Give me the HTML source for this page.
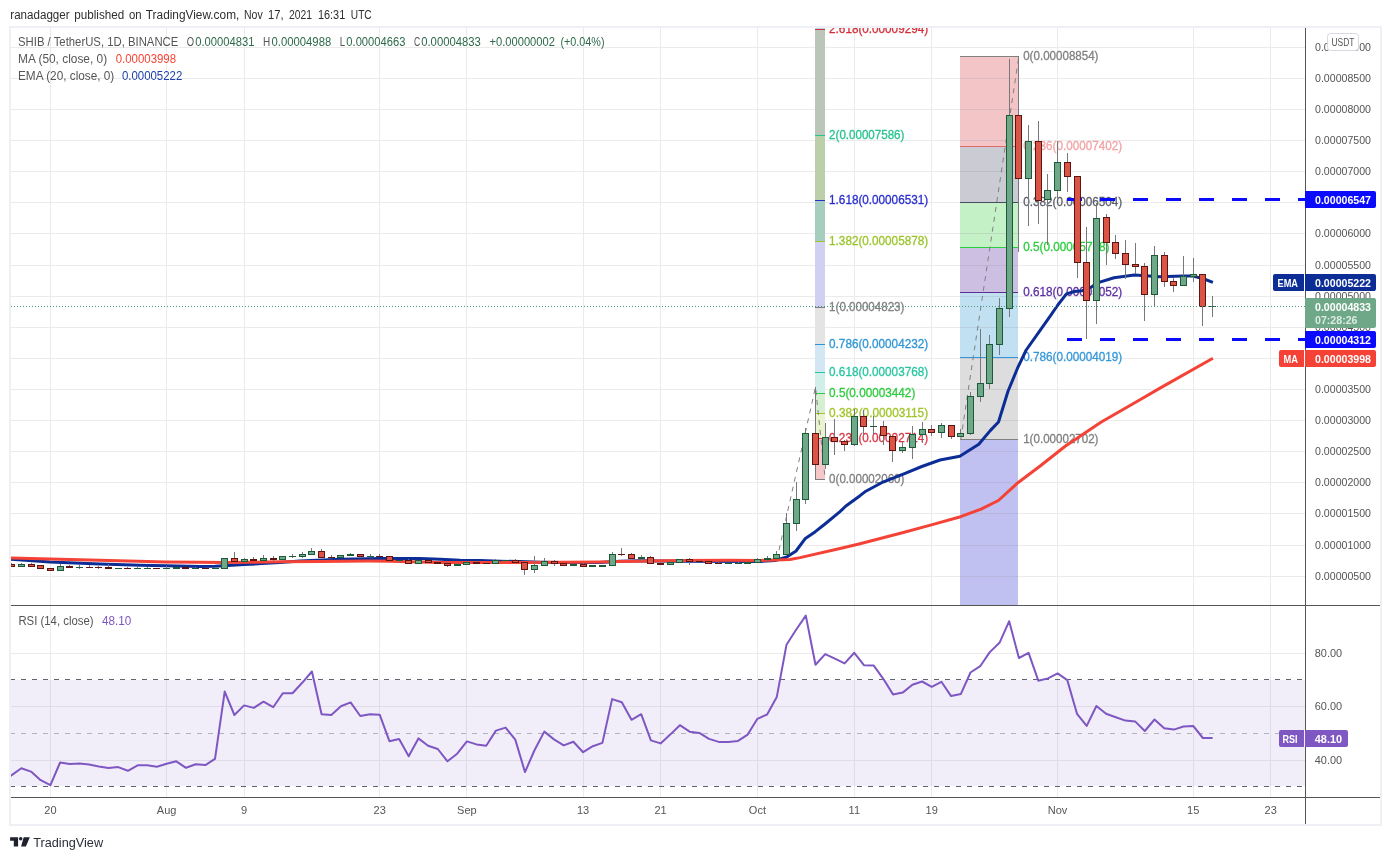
<!DOCTYPE html>
<html><head><meta charset="utf-8"><title>SHIB / TetherUS chart</title>
<style>
html,body{margin:0;padding:0;background:#fff;}
body{width:1391px;height:860px;overflow:hidden;position:relative;font-family:"Liberation Sans", sans-serif;}
#frame{position:absolute;left:9px;top:26px;width:1369px;height:796px;border:2px solid #eef0f5;background:#fff;}
svg{position:absolute;left:0;top:0;will-change:transform;}
svg text{font-family:"Liberation Sans", sans-serif;}
</style></head>
<body>
<div id="frame"></div>
<svg width="1391" height="860" viewBox="0 0 1391 860">
<defs><clipPath id="pane"><rect x="11" y="28" width="1369" height="796"/></clipPath></defs>
<g clip-path="url(#pane)">
<g shape-rendering="crispEdges">
<rect x="11" y="47" width="1294" height="1" fill="#ebebeb"/>
<rect x="11" y="78" width="1294" height="1" fill="#ebebeb"/>
<rect x="11" y="109" width="1294" height="1" fill="#ebebeb"/>
<rect x="11" y="140" width="1294" height="1" fill="#ebebeb"/>
<rect x="11" y="171" width="1294" height="1" fill="#ebebeb"/>
<rect x="11" y="202" width="1294" height="1" fill="#ebebeb"/>
<rect x="11" y="233" width="1294" height="1" fill="#ebebeb"/>
<rect x="11" y="265" width="1294" height="1" fill="#ebebeb"/>
<rect x="11" y="296" width="1294" height="1" fill="#ebebeb"/>
<rect x="11" y="327" width="1294" height="1" fill="#ebebeb"/>
<rect x="11" y="358" width="1294" height="1" fill="#ebebeb"/>
<rect x="11" y="389" width="1294" height="1" fill="#ebebeb"/>
<rect x="11" y="420" width="1294" height="1" fill="#ebebeb"/>
<rect x="11" y="451" width="1294" height="1" fill="#ebebeb"/>
<rect x="11" y="482" width="1294" height="1" fill="#ebebeb"/>
<rect x="11" y="513" width="1294" height="1" fill="#ebebeb"/>
<rect x="11" y="545" width="1294" height="1" fill="#ebebeb"/>
<rect x="11" y="576" width="1294" height="1" fill="#ebebeb"/>
<rect x="11" y="653" width="1294" height="1" fill="#ebebeb"/>
<rect x="11" y="706" width="1294" height="1" fill="#ebebeb"/>
<rect x="11" y="760" width="1294" height="1" fill="#ebebeb"/>
<rect x="50" y="28" width="1" height="769" fill="#ebebeb"/>
<rect x="166" y="28" width="1" height="769" fill="#ebebeb"/>
<rect x="244" y="28" width="1" height="769" fill="#ebebeb"/>
<rect x="379" y="28" width="1" height="769" fill="#ebebeb"/>
<rect x="466" y="28" width="1" height="769" fill="#ebebeb"/>
<rect x="583" y="28" width="1" height="769" fill="#ebebeb"/>
<rect x="660" y="28" width="1" height="769" fill="#ebebeb"/>
<rect x="757" y="28" width="1" height="769" fill="#ebebeb"/>
<rect x="854" y="28" width="1" height="769" fill="#ebebeb"/>
<rect x="931" y="28" width="1" height="769" fill="#ebebeb"/>
<rect x="1057" y="28" width="1" height="769" fill="#ebebeb"/>
<rect x="1193" y="28" width="1" height="769" fill="#ebebeb"/>
<rect x="1270" y="28" width="1" height="769" fill="#ebebeb"/>
</g>
<rect x="11" y="680" width="1294" height="106" fill="#7e57c2" fill-opacity="0.1"/>
<g shape-rendering="crispEdges">
<line x1="10" x2="1305" y1="679.5" y2="679.5" stroke="#62626f" stroke-width="1" stroke-dasharray="5 6"/>
<line x1="10" x2="1305" y1="733.5" y2="733.5" stroke="#b2b2bd" stroke-width="1" stroke-dasharray="5 6"/>
<line x1="10" x2="1305" y1="786.5" y2="786.5" stroke="#62626f" stroke-width="1" stroke-dasharray="5 6"/>
</g>
<g shape-rendering="crispEdges">
<rect x="815" y="438.6" width="10" height="40.7" fill="#f4c7c9"/>
<rect x="815" y="413.6" width="10" height="25.0" fill="#e9f3cf"/>
<rect x="815" y="393.3" width="10" height="20.4" fill="#d6efd0"/>
<rect x="815" y="372.9" width="10" height="20.3" fill="#cfefe8"/>
<rect x="815" y="344.1" width="10" height="28.9" fill="#d3e6f3"/>
<rect x="815" y="307.2" width="10" height="36.8" fill="#e4e4e4"/>
<rect x="815" y="241.5" width="10" height="65.7" fill="#cfd0f2"/>
<rect x="815" y="200.9" width="10" height="40.7" fill="#a6cdbd"/>
<rect x="815" y="135.2" width="10" height="65.7" fill="#bbd0aa"/>
<rect x="815" y="28.8" width="10" height="106.4" fill="#bbc5b8"/>
<rect x="815" y="28" width="10" height="1" fill="#bcd6e6"/>
<rect x="815" y="479" width="10" height="1" fill="#808080"/>
<rect x="815" y="438" width="10" height="1" fill="#dc3540"/>
<rect x="815" y="413" width="10" height="1" fill="#a2c52b"/>
<rect x="815" y="393" width="10" height="1" fill="#2ecc40"/>
<rect x="815" y="372" width="10" height="1" fill="#26c6a0"/>
<rect x="815" y="344" width="10" height="1" fill="#2f95d6"/>
<rect x="815" y="307" width="10" height="1" fill="#808080"/>
<rect x="815" y="241" width="10" height="1" fill="#9bc42c"/>
<rect x="815" y="200" width="10" height="1" fill="#2a2ed0"/>
<rect x="815" y="135" width="10" height="1" fill="#26c48e"/>
<rect x="815" y="29" width="10" height="1" fill="#d32f3a"/>
</g>
<polyline points="776.8,559.8 815.5,387.1 825.2,479.1" fill="none" stroke="#808080" stroke-width="1" stroke-dasharray="5 5"/>
<text x="829.1" y="482.6" font-size="12" fill="#808080" font-weight="normal" textLength="75.3" lengthAdjust="spacingAndGlyphs" stroke="#808080" stroke-width="0.3">0(0.00002060)</text>
<text x="829.1" y="441.9" font-size="12" fill="#dc3540" font-weight="normal" textLength="99.0" lengthAdjust="spacingAndGlyphs" stroke="#dc3540" stroke-width="0.3">0.236(0.00002714)</text>
<text x="829.1" y="416.9" font-size="12" fill="#a2c52b" font-weight="normal" textLength="99.0" lengthAdjust="spacingAndGlyphs" stroke="#a2c52b" stroke-width="0.3">0.382(0.00003115)</text>
<text x="829.1" y="396.6" font-size="12" fill="#2ecc40" font-weight="normal" textLength="86.2" lengthAdjust="spacingAndGlyphs" stroke="#2ecc40" stroke-width="0.3">0.5(0.00003442)</text>
<text x="829.1" y="376.2" font-size="12" fill="#26c6a0" font-weight="normal" textLength="99.0" lengthAdjust="spacingAndGlyphs" stroke="#26c6a0" stroke-width="0.3">0.618(0.00003768)</text>
<text x="829.1" y="348.1" font-size="12" fill="#2f95d6" font-weight="normal" textLength="99.0" lengthAdjust="spacingAndGlyphs" stroke="#2f95d6" stroke-width="0.3">0.786(0.00004232)</text>
<text x="829.1" y="310.5" font-size="12" fill="#808080" font-weight="normal" textLength="75.3" lengthAdjust="spacingAndGlyphs" stroke="#808080" stroke-width="0.3">1(0.00004823)</text>
<text x="829.1" y="244.8" font-size="12" fill="#9bc42c" font-weight="normal" textLength="99.0" lengthAdjust="spacingAndGlyphs" stroke="#9bc42c" stroke-width="0.3">1.382(0.00005878)</text>
<text x="829.1" y="204.2" font-size="12" fill="#2a2ed0" font-weight="normal" textLength="99.0" lengthAdjust="spacingAndGlyphs" stroke="#2a2ed0" stroke-width="0.3">1.618(0.00006531)</text>
<text x="829.1" y="138.5" font-size="12" fill="#26c48e" font-weight="normal" textLength="75.3" lengthAdjust="spacingAndGlyphs" stroke="#26c48e" stroke-width="0.3">2(0.00007586)</text>
<text x="829.1" y="32.9" font-size="12" fill="#d32f3a" font-weight="normal" textLength="99.0" lengthAdjust="spacingAndGlyphs" stroke="#d32f3a" stroke-width="0.3">2.618(0.00009294)</text>
<g shape-rendering="crispEdges">
<rect x="960" y="56.2" width="58" height="90.4" fill="#f4c5c7"/>
<rect x="960" y="146.6" width="58" height="55.9" fill="#cbcbd3"/>
<rect x="960" y="202.6" width="58" height="45.2" fill="#c5f1c6"/>
<rect x="960" y="247.8" width="58" height="45.2" fill="#cdbfe2"/>
<rect x="960" y="293.0" width="58" height="64.3" fill="#c1e1f2"/>
<rect x="960" y="357.3" width="58" height="82.0" fill="#dddddd"/>
<rect x="960" y="439.3" width="58" height="165.7" fill="#c1c1f1"/>
</g>
<g shape-rendering="crispEdges" opacity="0.25">
<rect x="960" y="78" width="58" height="1" fill="#9a9aa8"/>
<rect x="960" y="109" width="58" height="1" fill="#9a9aa8"/>
<rect x="960" y="140" width="58" height="1" fill="#9a9aa8"/>
<rect x="960" y="171" width="58" height="1" fill="#9a9aa8"/>
<rect x="960" y="202" width="58" height="1" fill="#9a9aa8"/>
<rect x="960" y="233" width="58" height="1" fill="#9a9aa8"/>
<rect x="960" y="265" width="58" height="1" fill="#9a9aa8"/>
<rect x="960" y="296" width="58" height="1" fill="#9a9aa8"/>
<rect x="960" y="327" width="58" height="1" fill="#9a9aa8"/>
<rect x="960" y="358" width="58" height="1" fill="#9a9aa8"/>
<rect x="960" y="389" width="58" height="1" fill="#9a9aa8"/>
<rect x="960" y="420" width="58" height="1" fill="#9a9aa8"/>
<rect x="960" y="451" width="58" height="1" fill="#9a9aa8"/>
<rect x="960" y="482" width="58" height="1" fill="#9a9aa8"/>
<rect x="960" y="513" width="58" height="1" fill="#9a9aa8"/>
<rect x="960" y="545" width="58" height="1" fill="#9a9aa8"/>
<rect x="960" y="576" width="58" height="1" fill="#9a9aa8"/>
</g>
<g shape-rendering="crispEdges">
<rect x="960" y="56" width="58" height="1" fill="#808080"/>
<rect x="960" y="146" width="58" height="1" fill="#e06a6a"/>
<rect x="960" y="202" width="58" height="1" fill="#4a4a5e"/>
<rect x="960" y="247" width="58" height="1" fill="#2ecc40"/>
<rect x="960" y="292" width="58" height="1" fill="#5b2d90"/>
<rect x="960" y="357" width="58" height="1" fill="#3597d9"/>
<rect x="960" y="439" width="58" height="1" fill="#808080"/>
</g>
<line x1="960.8" y1="439.3" x2="1018.9" y2="56.2" stroke="#808080" stroke-width="1" stroke-dasharray="5 5"/>
<text x="1023.2" y="59.5" font-size="12" fill="#808080" font-weight="normal" textLength="75.3" lengthAdjust="spacingAndGlyphs" stroke="#808080" stroke-width="0.3">0(0.00008854)</text>
<text x="1023.2" y="149.9" font-size="12" fill="#f2a3a6" font-weight="normal" textLength="99.0" lengthAdjust="spacingAndGlyphs" stroke="#f2a3a6" stroke-width="0.3">0.236(0.00007402)</text>
<text x="1023.2" y="205.9" font-size="12" fill="#5d606b" font-weight="normal" textLength="99.0" lengthAdjust="spacingAndGlyphs" stroke="#5d606b" stroke-width="0.3">0.382(0.00006504)</text>
<text x="1023.2" y="251.1" font-size="12" fill="#2ecc40" font-weight="normal" textLength="86.2" lengthAdjust="spacingAndGlyphs" stroke="#2ecc40" stroke-width="0.3">0.5(0.00005778)</text>
<text x="1023.2" y="296.3" font-size="12" fill="#5e30a3" font-weight="normal" textLength="99.0" lengthAdjust="spacingAndGlyphs" stroke="#5e30a3" stroke-width="0.3">0.618(0.00005052)</text>
<text x="1023.2" y="360.6" font-size="12" fill="#3597d9" font-weight="normal" textLength="99.0" lengthAdjust="spacingAndGlyphs" stroke="#3597d9" stroke-width="0.3">0.786(0.00004019)</text>
<text x="1023.2" y="442.6" font-size="12" fill="#808080" font-weight="normal" textLength="75.3" lengthAdjust="spacingAndGlyphs" stroke="#808080" stroke-width="0.3">1(0.00002702)</text>
<line x1="1067" x2="1305" y1="199.5" y2="199.5" stroke="#0a0aff" stroke-width="3" stroke-dasharray="15 18" shape-rendering="crispEdges"/>
<line x1="1067" x2="1305" y1="339.5" y2="339.5" stroke="#0a0aff" stroke-width="3" stroke-dasharray="15 18" shape-rendering="crispEdges"/>
<polyline points="10.0,559.3 50.0,562.0 100.0,564.0 140.0,565.2 166.0,565.7 200.0,566.4 215.0,566.3 224.0,565.8 244.0,564.6 262.0,563.6 280.0,562.6 300.0,561.0 340.0,559.3 380.0,558.5 420.0,558.5 440.0,559.3 460.0,560.2 480.0,560.6 500.0,561.2 520.0,561.6 540.0,562.2 560.0,562.4 600.0,562.4 620.0,561.3 640.0,560.8 680.0,561.3 760.0,561.5 775.0,560.5 786.8,557.0 796.0,551.0 805.0,538.8 815.3,531.7 825.0,524.0 840.0,511.6 845.9,506.0 860.0,495.7 864.9,491.8 881.6,482.7 903.3,474.1 921.8,466.5 940.0,460.0 959.8,456.2 978.8,444.3 990.0,430.9 998.5,422.0 1008.0,391.2 1017.5,368.2 1026.2,350.0 1038.0,333.4 1050.7,315.3 1057.8,305.0 1066.5,293.9 1074.4,291.5 1082.3,290.7 1091.8,286.8 1098.2,282.6 1114.0,277.8 1134.5,275.1 1160.0,276.7 1183.0,276.0 1193.0,276.1 1202.7,278.5 1212.9,282.4" fill="none" stroke="#0c2d96" stroke-width="3" stroke-linejoin="round" stroke-linecap="butt"/>
<polyline points="10.0,558.1 90.0,560.0 166.0,561.9 200.0,562.2 224.0,562.5 248.0,562.3 280.0,561.8 320.0,561.4 368.0,561.0 390.0,561.2 440.0,562.5 480.0,562.5 520.0,562.4 600.0,561.9 620.0,561.5 680.0,560.6 728.0,560.3 760.0,560.5 790.0,559.5 800.0,557.6 840.0,548.5 860.0,543.7 903.3,532.5 931.4,524.9 960.6,516.7 981.1,509.1 998.4,500.5 1017.9,482.7 1039.5,466.5 1065.5,446.0 1101.3,422.0 1140.0,399.7 1160.0,388.1 1212.9,358.3" fill="none" stroke="#f44336" stroke-width="3" stroke-linejoin="round" stroke-linecap="butt"/>
<g shape-rendering="crispEdges">
<rect x="11" y="563" width="1" height="4" fill="#76787d"/>
<rect x="8" y="564" width="7" height="3" fill="#5e1511"/>
<rect x="9" y="565" width="5" height="1" fill="#da5545"/>
<rect x="21" y="563" width="1" height="4" fill="#76787d"/>
<rect x="18" y="564" width="7" height="3" fill="#1d5a3a"/>
<rect x="19" y="565" width="5" height="1" fill="#6fa888"/>
<rect x="31" y="563" width="1" height="4" fill="#76787d"/>
<rect x="28" y="564" width="7" height="3" fill="#5e1511"/>
<rect x="29" y="565" width="5" height="1" fill="#da5545"/>
<rect x="40" y="565" width="1" height="4" fill="#76787d"/>
<rect x="37" y="565" width="7" height="4" fill="#5e1511"/>
<rect x="38" y="566" width="5" height="2" fill="#da5545"/>
<rect x="50" y="568" width="1" height="3" fill="#76787d"/>
<rect x="47" y="568" width="7" height="3" fill="#5e1511"/>
<rect x="48" y="569" width="5" height="1" fill="#da5545"/>
<rect x="60" y="564" width="1" height="7" fill="#76787d"/>
<rect x="57" y="566" width="7" height="5" fill="#1d5a3a"/>
<rect x="58" y="567" width="5" height="3" fill="#6fa888"/>
<rect x="69" y="565" width="1" height="3" fill="#76787d"/>
<rect x="66" y="566" width="7" height="2" fill="#5e1511"/>
<rect x="79" y="565" width="1" height="4" fill="#76787d"/>
<rect x="76" y="567" width="7" height="1" fill="#1d5a3a"/>
<rect x="89" y="565" width="1" height="3" fill="#76787d"/>
<rect x="86" y="567" width="7" height="1" fill="#5e1511"/>
<rect x="98" y="566" width="1" height="3" fill="#76787d"/>
<rect x="95" y="567" width="7" height="1" fill="#5e1511"/>
<rect x="108" y="564" width="1" height="5" fill="#76787d"/>
<rect x="105" y="567" width="7" height="2" fill="#5e1511"/>
<rect x="118" y="568" width="1" height="1" fill="#76787d"/>
<rect x="115" y="568" width="7" height="1" fill="#1d5a3a"/>
<rect x="127" y="567" width="1" height="2" fill="#76787d"/>
<rect x="124" y="568" width="7" height="1" fill="#5e1511"/>
<rect x="137" y="567" width="1" height="2" fill="#76787d"/>
<rect x="134" y="568" width="7" height="1" fill="#1d5a3a"/>
<rect x="147" y="567" width="1" height="2" fill="#76787d"/>
<rect x="144" y="568" width="7" height="1" fill="#1d5a3a"/>
<rect x="156" y="568" width="1" height="1" fill="#76787d"/>
<rect x="153" y="568" width="7" height="1" fill="#5e1511"/>
<rect x="166" y="566" width="1" height="3" fill="#76787d"/>
<rect x="163" y="568" width="7" height="1" fill="#1d5a3a"/>
<rect x="176" y="567" width="1" height="2" fill="#76787d"/>
<rect x="173" y="567" width="7" height="2" fill="#1d5a3a"/>
<rect x="185" y="567" width="1" height="2" fill="#76787d"/>
<rect x="182" y="567" width="7" height="2" fill="#5e1511"/>
<rect x="195" y="567" width="1" height="2" fill="#76787d"/>
<rect x="192" y="568" width="7" height="1" fill="#1d5a3a"/>
<rect x="205" y="568" width="1" height="1" fill="#76787d"/>
<rect x="202" y="568" width="7" height="1" fill="#5e1511"/>
<rect x="215" y="567" width="1" height="2" fill="#76787d"/>
<rect x="212" y="568" width="7" height="1" fill="#1d5a3a"/>
<rect x="224" y="558" width="1" height="11" fill="#76787d"/>
<rect x="221" y="558" width="7" height="11" fill="#1d5a3a"/>
<rect x="222" y="559" width="5" height="9" fill="#6fa888"/>
<rect x="234" y="552" width="1" height="10" fill="#76787d"/>
<rect x="231" y="558" width="7" height="4" fill="#5e1511"/>
<rect x="232" y="559" width="5" height="2" fill="#da5545"/>
<rect x="244" y="558" width="1" height="4" fill="#76787d"/>
<rect x="241" y="559" width="7" height="3" fill="#1d5a3a"/>
<rect x="242" y="560" width="5" height="1" fill="#6fa888"/>
<rect x="253" y="557" width="1" height="4" fill="#76787d"/>
<rect x="250" y="559" width="7" height="2" fill="#5e1511"/>
<rect x="263" y="555" width="1" height="6" fill="#76787d"/>
<rect x="260" y="558" width="7" height="3" fill="#1d5a3a"/>
<rect x="261" y="559" width="5" height="1" fill="#6fa888"/>
<rect x="273" y="556" width="1" height="5" fill="#76787d"/>
<rect x="270" y="558" width="7" height="2" fill="#5e1511"/>
<rect x="282" y="556" width="1" height="4" fill="#76787d"/>
<rect x="279" y="556" width="7" height="4" fill="#1d5a3a"/>
<rect x="280" y="557" width="5" height="2" fill="#6fa888"/>
<rect x="292" y="554" width="1" height="4" fill="#76787d"/>
<rect x="289" y="556" width="7" height="1" fill="#1d5a3a"/>
<rect x="302" y="552" width="1" height="6" fill="#76787d"/>
<rect x="299" y="554" width="7" height="3" fill="#1d5a3a"/>
<rect x="300" y="555" width="5" height="1" fill="#6fa888"/>
<rect x="311" y="548" width="1" height="7" fill="#76787d"/>
<rect x="308" y="551" width="7" height="4" fill="#1d5a3a"/>
<rect x="309" y="552" width="5" height="2" fill="#6fa888"/>
<rect x="321" y="549" width="1" height="9" fill="#76787d"/>
<rect x="318" y="551" width="7" height="7" fill="#5e1511"/>
<rect x="319" y="552" width="5" height="5" fill="#da5545"/>
<rect x="331" y="555" width="1" height="3" fill="#76787d"/>
<rect x="328" y="557" width="7" height="1" fill="#5e1511"/>
<rect x="340" y="555" width="1" height="3" fill="#76787d"/>
<rect x="337" y="555" width="7" height="3" fill="#1d5a3a"/>
<rect x="338" y="556" width="5" height="1" fill="#6fa888"/>
<rect x="350" y="553" width="1" height="3" fill="#76787d"/>
<rect x="347" y="554" width="7" height="2" fill="#1d5a3a"/>
<rect x="360" y="554" width="1" height="3" fill="#76787d"/>
<rect x="357" y="554" width="7" height="3" fill="#5e1511"/>
<rect x="358" y="555" width="5" height="1" fill="#da5545"/>
<rect x="370" y="554" width="1" height="3" fill="#76787d"/>
<rect x="367" y="556" width="7" height="1" fill="#1d5a3a"/>
<rect x="379" y="554" width="1" height="3" fill="#76787d"/>
<rect x="376" y="556" width="7" height="1" fill="#5e1511"/>
<rect x="389" y="556" width="1" height="5" fill="#76787d"/>
<rect x="386" y="556" width="7" height="5" fill="#5e1511"/>
<rect x="387" y="557" width="5" height="3" fill="#da5545"/>
<rect x="399" y="560" width="1" height="2" fill="#76787d"/>
<rect x="396" y="560" width="7" height="1" fill="#1d5a3a"/>
<rect x="408" y="559" width="1" height="5" fill="#76787d"/>
<rect x="405" y="560" width="7" height="4" fill="#5e1511"/>
<rect x="406" y="561" width="5" height="2" fill="#da5545"/>
<rect x="418" y="560" width="1" height="4" fill="#76787d"/>
<rect x="415" y="560" width="7" height="4" fill="#1d5a3a"/>
<rect x="416" y="561" width="5" height="2" fill="#6fa888"/>
<rect x="428" y="560" width="1" height="3" fill="#76787d"/>
<rect x="425" y="560" width="7" height="3" fill="#5e1511"/>
<rect x="426" y="561" width="5" height="1" fill="#da5545"/>
<rect x="437" y="562" width="1" height="2" fill="#76787d"/>
<rect x="434" y="562" width="7" height="2" fill="#5e1511"/>
<rect x="447" y="562" width="1" height="5" fill="#76787d"/>
<rect x="444" y="563" width="7" height="3" fill="#5e1511"/>
<rect x="445" y="564" width="5" height="1" fill="#da5545"/>
<rect x="457" y="563" width="1" height="3" fill="#76787d"/>
<rect x="454" y="564" width="7" height="2" fill="#1d5a3a"/>
<rect x="466" y="562" width="1" height="3" fill="#76787d"/>
<rect x="463" y="562" width="7" height="3" fill="#1d5a3a"/>
<rect x="464" y="563" width="5" height="1" fill="#6fa888"/>
<rect x="476" y="561" width="1" height="3" fill="#76787d"/>
<rect x="473" y="562" width="7" height="2" fill="#5e1511"/>
<rect x="486" y="562" width="1" height="2" fill="#76787d"/>
<rect x="483" y="563" width="7" height="1" fill="#5e1511"/>
<rect x="495" y="559" width="1" height="5" fill="#76787d"/>
<rect x="492" y="560" width="7" height="4" fill="#1d5a3a"/>
<rect x="493" y="561" width="5" height="2" fill="#6fa888"/>
<rect x="505" y="560" width="1" height="2" fill="#76787d"/>
<rect x="502" y="560" width="7" height="1" fill="#1d5a3a"/>
<rect x="515" y="559" width="1" height="4" fill="#76787d"/>
<rect x="512" y="560" width="7" height="3" fill="#5e1511"/>
<rect x="513" y="561" width="5" height="1" fill="#da5545"/>
<rect x="524" y="562" width="1" height="13" fill="#76787d"/>
<rect x="521" y="562" width="7" height="8" fill="#5e1511"/>
<rect x="522" y="563" width="5" height="6" fill="#da5545"/>
<rect x="534" y="556" width="1" height="17" fill="#76787d"/>
<rect x="531" y="565" width="7" height="5" fill="#1d5a3a"/>
<rect x="532" y="566" width="5" height="3" fill="#6fa888"/>
<rect x="544" y="558" width="1" height="8" fill="#76787d"/>
<rect x="541" y="561" width="7" height="5" fill="#1d5a3a"/>
<rect x="542" y="562" width="5" height="3" fill="#6fa888"/>
<rect x="554" y="560" width="1" height="6" fill="#76787d"/>
<rect x="551" y="561" width="7" height="3" fill="#5e1511"/>
<rect x="552" y="562" width="5" height="1" fill="#da5545"/>
<rect x="563" y="563" width="1" height="3" fill="#76787d"/>
<rect x="560" y="563" width="7" height="3" fill="#5e1511"/>
<rect x="561" y="564" width="5" height="1" fill="#da5545"/>
<rect x="573" y="564" width="1" height="2" fill="#76787d"/>
<rect x="570" y="564" width="7" height="2" fill="#1d5a3a"/>
<rect x="583" y="563" width="1" height="4" fill="#76787d"/>
<rect x="580" y="564" width="7" height="3" fill="#5e1511"/>
<rect x="581" y="565" width="5" height="1" fill="#da5545"/>
<rect x="592" y="565" width="1" height="2" fill="#76787d"/>
<rect x="589" y="565" width="7" height="2" fill="#1d5a3a"/>
<rect x="602" y="565" width="1" height="2" fill="#76787d"/>
<rect x="599" y="565" width="7" height="2" fill="#1d5a3a"/>
<rect x="612" y="552" width="1" height="14" fill="#76787d"/>
<rect x="609" y="554" width="7" height="12" fill="#1d5a3a"/>
<rect x="610" y="555" width="5" height="10" fill="#6fa888"/>
<rect x="621" y="548" width="1" height="8" fill="#76787d"/>
<rect x="618" y="554" width="7" height="1" fill="#5e1511"/>
<rect x="631" y="553" width="1" height="6" fill="#76787d"/>
<rect x="628" y="554" width="7" height="5" fill="#5e1511"/>
<rect x="629" y="555" width="5" height="3" fill="#da5545"/>
<rect x="641" y="555" width="1" height="6" fill="#76787d"/>
<rect x="638" y="557" width="7" height="2" fill="#1d5a3a"/>
<rect x="650" y="556" width="1" height="8" fill="#76787d"/>
<rect x="647" y="557" width="7" height="7" fill="#5e1511"/>
<rect x="648" y="558" width="5" height="5" fill="#da5545"/>
<rect x="660" y="562" width="1" height="3" fill="#76787d"/>
<rect x="657" y="563" width="7" height="2" fill="#5e1511"/>
<rect x="670" y="561" width="1" height="4" fill="#76787d"/>
<rect x="667" y="562" width="7" height="3" fill="#1d5a3a"/>
<rect x="668" y="563" width="5" height="1" fill="#6fa888"/>
<rect x="679" y="559" width="1" height="4" fill="#76787d"/>
<rect x="676" y="559" width="7" height="4" fill="#1d5a3a"/>
<rect x="677" y="560" width="5" height="2" fill="#6fa888"/>
<rect x="689" y="558" width="1" height="7" fill="#76787d"/>
<rect x="686" y="559" width="7" height="3" fill="#5e1511"/>
<rect x="687" y="560" width="5" height="1" fill="#da5545"/>
<rect x="699" y="560" width="1" height="2" fill="#76787d"/>
<rect x="696" y="561" width="7" height="1" fill="#5e1511"/>
<rect x="708" y="561" width="1" height="3" fill="#76787d"/>
<rect x="705" y="561" width="7" height="3" fill="#5e1511"/>
<rect x="706" y="562" width="5" height="1" fill="#da5545"/>
<rect x="718" y="562" width="1" height="2" fill="#76787d"/>
<rect x="715" y="563" width="7" height="1" fill="#5e1511"/>
<rect x="728" y="563" width="1" height="1" fill="#76787d"/>
<rect x="725" y="563" width="7" height="1" fill="#1d5a3a"/>
<rect x="738" y="562" width="1" height="2" fill="#76787d"/>
<rect x="735" y="563" width="7" height="1" fill="#1d5a3a"/>
<rect x="747" y="562" width="1" height="2" fill="#76787d"/>
<rect x="744" y="562" width="7" height="2" fill="#1d5a3a"/>
<rect x="757" y="558" width="1" height="5" fill="#76787d"/>
<rect x="754" y="559" width="7" height="4" fill="#1d5a3a"/>
<rect x="755" y="560" width="5" height="2" fill="#6fa888"/>
<rect x="767" y="556" width="1" height="5" fill="#76787d"/>
<rect x="764" y="558" width="7" height="2" fill="#1d5a3a"/>
<rect x="776" y="551" width="1" height="8" fill="#76787d"/>
<rect x="773" y="554" width="7" height="5" fill="#1d5a3a"/>
<rect x="774" y="555" width="5" height="3" fill="#6fa888"/>
<rect x="786" y="513" width="1" height="42" fill="#76787d"/>
<rect x="783" y="523" width="7" height="32" fill="#1d5a3a"/>
<rect x="784" y="524" width="5" height="30" fill="#6fa888"/>
<rect x="796" y="482" width="1" height="49" fill="#76787d"/>
<rect x="793" y="499" width="7" height="25" fill="#1d5a3a"/>
<rect x="794" y="500" width="5" height="23" fill="#6fa888"/>
<rect x="805" y="428" width="1" height="76" fill="#76787d"/>
<rect x="802" y="433" width="7" height="67" fill="#1d5a3a"/>
<rect x="803" y="434" width="5" height="65" fill="#6fa888"/>
<rect x="815" y="387" width="1" height="92" fill="#76787d"/>
<rect x="812" y="433" width="7" height="32" fill="#5e1511"/>
<rect x="813" y="434" width="5" height="30" fill="#da5545"/>
<rect x="825" y="423" width="1" height="46" fill="#76787d"/>
<rect x="822" y="437" width="7" height="28" fill="#1d5a3a"/>
<rect x="823" y="438" width="5" height="26" fill="#6fa888"/>
<rect x="834" y="419" width="1" height="36" fill="#76787d"/>
<rect x="831" y="437" width="7" height="5" fill="#5e1511"/>
<rect x="832" y="438" width="5" height="3" fill="#da5545"/>
<rect x="844" y="440" width="1" height="11" fill="#76787d"/>
<rect x="841" y="441" width="7" height="4" fill="#5e1511"/>
<rect x="842" y="442" width="5" height="2" fill="#da5545"/>
<rect x="854" y="409" width="1" height="37" fill="#76787d"/>
<rect x="851" y="416" width="7" height="29" fill="#1d5a3a"/>
<rect x="852" y="417" width="5" height="27" fill="#6fa888"/>
<rect x="863" y="410" width="1" height="26" fill="#76787d"/>
<rect x="860" y="416" width="7" height="11" fill="#5e1511"/>
<rect x="861" y="417" width="5" height="9" fill="#da5545"/>
<rect x="873" y="416" width="1" height="19" fill="#76787d"/>
<rect x="870" y="426" width="7" height="1" fill="#1d5a3a"/>
<rect x="883" y="421" width="1" height="24" fill="#76787d"/>
<rect x="880" y="426" width="7" height="10" fill="#5e1511"/>
<rect x="881" y="427" width="5" height="8" fill="#da5545"/>
<rect x="892" y="436" width="1" height="26" fill="#76787d"/>
<rect x="889" y="436" width="7" height="15" fill="#5e1511"/>
<rect x="890" y="437" width="5" height="13" fill="#da5545"/>
<rect x="902" y="442" width="1" height="11" fill="#76787d"/>
<rect x="899" y="447" width="7" height="4" fill="#1d5a3a"/>
<rect x="900" y="448" width="5" height="2" fill="#6fa888"/>
<rect x="912" y="426" width="1" height="33" fill="#76787d"/>
<rect x="909" y="434" width="7" height="14" fill="#1d5a3a"/>
<rect x="910" y="435" width="5" height="12" fill="#6fa888"/>
<rect x="922" y="422" width="1" height="21" fill="#76787d"/>
<rect x="919" y="429" width="7" height="6" fill="#1d5a3a"/>
<rect x="920" y="430" width="5" height="4" fill="#6fa888"/>
<rect x="931" y="425" width="1" height="11" fill="#76787d"/>
<rect x="928" y="429" width="7" height="4" fill="#5e1511"/>
<rect x="929" y="430" width="5" height="2" fill="#da5545"/>
<rect x="941" y="423" width="1" height="15" fill="#76787d"/>
<rect x="938" y="425" width="7" height="8" fill="#1d5a3a"/>
<rect x="939" y="426" width="5" height="6" fill="#6fa888"/>
<rect x="951" y="425" width="1" height="14" fill="#76787d"/>
<rect x="948" y="425" width="7" height="12" fill="#5e1511"/>
<rect x="949" y="426" width="5" height="10" fill="#da5545"/>
<rect x="960" y="429" width="1" height="8" fill="#76787d"/>
<rect x="957" y="433" width="7" height="4" fill="#1d5a3a"/>
<rect x="958" y="434" width="5" height="2" fill="#6fa888"/>
<rect x="970" y="392" width="1" height="43" fill="#76787d"/>
<rect x="967" y="396" width="7" height="38" fill="#1d5a3a"/>
<rect x="968" y="397" width="5" height="36" fill="#6fa888"/>
<rect x="980" y="329" width="1" height="73" fill="#76787d"/>
<rect x="977" y="383" width="7" height="14" fill="#1d5a3a"/>
<rect x="978" y="384" width="5" height="12" fill="#6fa888"/>
<rect x="989" y="335" width="1" height="54" fill="#76787d"/>
<rect x="986" y="344" width="7" height="40" fill="#1d5a3a"/>
<rect x="987" y="345" width="5" height="38" fill="#6fa888"/>
<rect x="999" y="298" width="1" height="57" fill="#76787d"/>
<rect x="996" y="308" width="7" height="37" fill="#1d5a3a"/>
<rect x="997" y="309" width="5" height="35" fill="#6fa888"/>
<rect x="1009" y="59" width="1" height="258" fill="#76787d"/>
<rect x="1006" y="115" width="7" height="194" fill="#1d5a3a"/>
<rect x="1007" y="116" width="5" height="192" fill="#6fa888"/>
<rect x="1018" y="56" width="1" height="196" fill="#76787d"/>
<rect x="1015" y="115" width="7" height="64" fill="#5e1511"/>
<rect x="1016" y="116" width="5" height="62" fill="#da5545"/>
<rect x="1028" y="125" width="1" height="101" fill="#76787d"/>
<rect x="1025" y="141" width="7" height="38" fill="#1d5a3a"/>
<rect x="1026" y="142" width="5" height="36" fill="#6fa888"/>
<rect x="1038" y="121" width="1" height="103" fill="#76787d"/>
<rect x="1035" y="141" width="7" height="60" fill="#5e1511"/>
<rect x="1036" y="142" width="5" height="58" fill="#da5545"/>
<rect x="1047" y="174" width="1" height="71" fill="#76787d"/>
<rect x="1044" y="190" width="7" height="10" fill="#1d5a3a"/>
<rect x="1045" y="191" width="5" height="8" fill="#6fa888"/>
<rect x="1057" y="141" width="1" height="57" fill="#76787d"/>
<rect x="1054" y="162" width="7" height="29" fill="#1d5a3a"/>
<rect x="1055" y="163" width="5" height="27" fill="#6fa888"/>
<rect x="1067" y="153" width="1" height="39" fill="#76787d"/>
<rect x="1064" y="162" width="7" height="15" fill="#5e1511"/>
<rect x="1065" y="163" width="5" height="13" fill="#da5545"/>
<rect x="1077" y="176" width="1" height="102" fill="#76787d"/>
<rect x="1074" y="176" width="7" height="87" fill="#5e1511"/>
<rect x="1075" y="177" width="5" height="85" fill="#da5545"/>
<rect x="1086" y="227" width="1" height="112" fill="#76787d"/>
<rect x="1083" y="262" width="7" height="39" fill="#5e1511"/>
<rect x="1084" y="263" width="5" height="37" fill="#da5545"/>
<rect x="1096" y="203" width="1" height="121" fill="#76787d"/>
<rect x="1093" y="218" width="7" height="83" fill="#1d5a3a"/>
<rect x="1094" y="219" width="5" height="81" fill="#6fa888"/>
<rect x="1106" y="214" width="1" height="51" fill="#76787d"/>
<rect x="1103" y="217" width="7" height="26" fill="#5e1511"/>
<rect x="1104" y="218" width="5" height="24" fill="#da5545"/>
<rect x="1115" y="235" width="1" height="24" fill="#76787d"/>
<rect x="1112" y="242" width="7" height="12" fill="#5e1511"/>
<rect x="1113" y="243" width="5" height="10" fill="#da5545"/>
<rect x="1125" y="240" width="1" height="39" fill="#76787d"/>
<rect x="1122" y="253" width="7" height="12" fill="#5e1511"/>
<rect x="1123" y="254" width="5" height="10" fill="#da5545"/>
<rect x="1135" y="243" width="1" height="31" fill="#76787d"/>
<rect x="1132" y="264" width="7" height="3" fill="#5e1511"/>
<rect x="1133" y="265" width="5" height="1" fill="#da5545"/>
<rect x="1144" y="263" width="1" height="58" fill="#76787d"/>
<rect x="1141" y="266" width="7" height="29" fill="#5e1511"/>
<rect x="1142" y="267" width="5" height="27" fill="#da5545"/>
<rect x="1154" y="246" width="1" height="60" fill="#76787d"/>
<rect x="1151" y="255" width="7" height="40" fill="#1d5a3a"/>
<rect x="1152" y="256" width="5" height="38" fill="#6fa888"/>
<rect x="1164" y="252" width="1" height="35" fill="#76787d"/>
<rect x="1161" y="255" width="7" height="27" fill="#5e1511"/>
<rect x="1162" y="256" width="5" height="25" fill="#da5545"/>
<rect x="1173" y="278" width="1" height="14" fill="#76787d"/>
<rect x="1170" y="281" width="7" height="5" fill="#5e1511"/>
<rect x="1171" y="282" width="5" height="3" fill="#da5545"/>
<rect x="1183" y="256" width="1" height="30" fill="#76787d"/>
<rect x="1180" y="276" width="7" height="10" fill="#1d5a3a"/>
<rect x="1181" y="277" width="5" height="8" fill="#6fa888"/>
<rect x="1193" y="258" width="1" height="24" fill="#76787d"/>
<rect x="1190" y="274" width="7" height="3" fill="#1d5a3a"/>
<rect x="1191" y="275" width="5" height="1" fill="#6fa888"/>
<rect x="1202" y="274" width="1" height="52" fill="#76787d"/>
<rect x="1199" y="274" width="7" height="33" fill="#5e1511"/>
<rect x="1200" y="275" width="5" height="31" fill="#da5545"/>
<rect x="1212" y="296" width="1" height="21" fill="#76787d"/>
<rect x="1209" y="306" width="7" height="1" fill="#1d5a3a"/>
</g>
<line x1="11" x2="1305" y1="306.5" y2="306.5" stroke="#4f9a76" stroke-width="1" stroke-dasharray="1 2" shape-rendering="crispEdges"/>
<polyline points="10.5,776.0 11.7,775.1 21.3,768.3 31.0,771.6 40.7,780.2 50.4,785.2 60.1,762.5 69.8,764.1 79.5,763.6 89.1,764.6 98.8,766.6 108.5,768.1 118.2,767.1 127.9,770.8 137.6,765.3 147.2,765.3 156.9,766.8 166.6,763.8 176.3,761.3 186.0,767.8 195.7,764.3 205.4,765.1 215.0,758.8 224.7,691.6 234.4,715.0 244.1,705.4 253.8,707.9 263.5,701.7 273.2,707.2 282.8,693.3 292.5,693.3 302.2,682.8 311.9,671.5 321.6,714.2 331.3,715.0 340.9,706.2 350.6,702.4 360.3,716.0 370.0,714.2 379.7,714.7 389.4,741.2 399.1,739.1 408.7,756.3 418.4,738.4 428.1,745.7 437.8,749.0 447.5,761.3 457.2,753.7 466.9,741.4 476.5,744.4 486.2,745.7 495.9,730.6 505.6,727.6 515.3,739.6 525.0,772.1 534.6,750.0 544.3,731.6 554.0,739.4 563.7,745.4 573.4,741.7 583.1,752.2 592.8,746.2 602.4,742.9 612.1,699.1 621.8,702.2 631.5,719.8 641.2,714.2 650.9,740.4 660.6,743.4 670.2,734.6 679.9,725.2 689.6,731.7 699.3,732.9 709.0,738.9 718.7,741.9 728.4,741.9 738.0,740.9 747.7,734.6 757.4,718.8 767.1,714.5 776.8,696.9 786.5,644.8 796.1,629.7 805.8,615.6 815.5,664.7 825.2,654.1 834.9,658.6 844.6,663.4 854.3,652.8 863.9,665.2 873.6,665.4 883.3,678.8 893.0,694.4 902.7,692.6 912.4,684.8 922.1,681.5 931.7,686.8 941.4,681.8 951.1,696.1 960.8,694.1 970.5,672.5 980.2,666.2 989.8,652.1 999.5,642.8 1009.2,621.2 1018.9,658.0 1028.6,652.8 1038.3,680.7 1048.0,678.4 1057.6,673.4 1067.3,680.1 1077.0,713.8 1086.7,725.9 1096.4,706.0 1106.1,713.8 1115.8,717.2 1125.4,720.6 1135.1,721.4 1144.8,731.0 1154.5,719.5 1164.2,728.2 1173.9,729.6 1183.5,726.5 1193.2,725.9 1202.9,738.0 1212.6,738.0" fill="none" stroke="#7e57c2" stroke-width="2" stroke-linejoin="round" stroke-linecap="butt"/>
<g shape-rendering="crispEdges">
<rect x="11" y="605" width="1369" height="1" fill="#555"/>
<rect x="11" y="797" width="1369" height="1" fill="#555"/>
<rect x="1305" y="28" width="1" height="796" fill="#555"/>
</g>
<text x="1315.0" y="50.8" font-size="10.7" fill="#555" font-weight="normal" textLength="56.0" lengthAdjust="spacingAndGlyphs">0.00009000</text>
<text x="1315.0" y="81.8" font-size="10.7" fill="#555" font-weight="normal" textLength="56.0" lengthAdjust="spacingAndGlyphs">0.00008500</text>
<text x="1315.0" y="112.8" font-size="10.7" fill="#555" font-weight="normal" textLength="56.0" lengthAdjust="spacingAndGlyphs">0.00008000</text>
<text x="1315.0" y="143.8" font-size="10.7" fill="#555" font-weight="normal" textLength="56.0" lengthAdjust="spacingAndGlyphs">0.00007500</text>
<text x="1315.0" y="174.8" font-size="10.7" fill="#555" font-weight="normal" textLength="56.0" lengthAdjust="spacingAndGlyphs">0.00007000</text>
<text x="1315.0" y="205.8" font-size="10.7" fill="#555" font-weight="normal" textLength="56.0" lengthAdjust="spacingAndGlyphs">0.00006500</text>
<text x="1315.0" y="236.8" font-size="10.7" fill="#555" font-weight="normal" textLength="56.0" lengthAdjust="spacingAndGlyphs">0.00006000</text>
<text x="1315.0" y="268.8" font-size="10.7" fill="#555" font-weight="normal" textLength="56.0" lengthAdjust="spacingAndGlyphs">0.00005500</text>
<text x="1315.0" y="299.8" font-size="10.7" fill="#555" font-weight="normal" textLength="56.0" lengthAdjust="spacingAndGlyphs">0.00005000</text>
<text x="1315.0" y="330.8" font-size="10.7" fill="#555" font-weight="normal" textLength="56.0" lengthAdjust="spacingAndGlyphs">0.00004500</text>
<text x="1315.0" y="361.8" font-size="10.7" fill="#555" font-weight="normal" textLength="56.0" lengthAdjust="spacingAndGlyphs">0.00004000</text>
<text x="1315.0" y="392.8" font-size="10.7" fill="#555" font-weight="normal" textLength="56.0" lengthAdjust="spacingAndGlyphs">0.00003500</text>
<text x="1315.0" y="423.8" font-size="10.7" fill="#555" font-weight="normal" textLength="56.0" lengthAdjust="spacingAndGlyphs">0.00003000</text>
<text x="1315.0" y="454.8" font-size="10.7" fill="#555" font-weight="normal" textLength="56.0" lengthAdjust="spacingAndGlyphs">0.00002500</text>
<text x="1315.0" y="485.8" font-size="10.7" fill="#555" font-weight="normal" textLength="56.0" lengthAdjust="spacingAndGlyphs">0.00002000</text>
<text x="1315.0" y="516.8" font-size="10.7" fill="#555" font-weight="normal" textLength="56.0" lengthAdjust="spacingAndGlyphs">0.00001500</text>
<text x="1315.0" y="548.8" font-size="10.7" fill="#555" font-weight="normal" textLength="56.0" lengthAdjust="spacingAndGlyphs">0.00001000</text>
<text x="1315.0" y="579.8" font-size="10.7" fill="#555" font-weight="normal" textLength="56.0" lengthAdjust="spacingAndGlyphs">0.00000500</text>
<text x="1314.8" y="656.8" font-size="10.7" fill="#555" font-weight="normal" textLength="27.3" lengthAdjust="spacingAndGlyphs">80.00</text>
<text x="1314.8" y="709.8" font-size="10.7" fill="#555" font-weight="normal" textLength="27.3" lengthAdjust="spacingAndGlyphs">60.00</text>
<text x="1314.8" y="763.8" font-size="10.7" fill="#555" font-weight="normal" textLength="27.3" lengthAdjust="spacingAndGlyphs">40.00</text>
<text x="50.4" y="814.2" font-size="11" fill="#555" font-weight="normal" text-anchor="middle">20</text>
<text x="166.6" y="814.2" font-size="11" fill="#555" font-weight="normal" text-anchor="middle">Aug</text>
<text x="244.1" y="814.2" font-size="11" fill="#555" font-weight="normal" text-anchor="middle">9</text>
<text x="379.7" y="814.2" font-size="11" fill="#555" font-weight="normal" text-anchor="middle">23</text>
<text x="466.9" y="814.2" font-size="11" fill="#555" font-weight="normal" text-anchor="middle">Sep</text>
<text x="583.1" y="814.2" font-size="11" fill="#555" font-weight="normal" text-anchor="middle">13</text>
<text x="660.6" y="814.2" font-size="11" fill="#555" font-weight="normal" text-anchor="middle">21</text>
<text x="757.4" y="814.2" font-size="11" fill="#555" font-weight="normal" text-anchor="middle">Oct</text>
<text x="854.3" y="814.2" font-size="11" fill="#555" font-weight="normal" text-anchor="middle">11</text>
<text x="931.7" y="814.2" font-size="11" fill="#555" font-weight="normal" text-anchor="middle">19</text>
<text x="1057.6" y="814.2" font-size="11" fill="#555" font-weight="normal" text-anchor="middle">Nov</text>
<text x="1193.2" y="814.2" font-size="11" fill="#555" font-weight="normal" text-anchor="middle">15</text>
<text x="1270.7" y="814.2" font-size="11" fill="#555" font-weight="normal" text-anchor="middle">23</text>
<path d="M1305,191 H1374 Q1376,191 1376,193 V206 Q1376,208 1374,208 H1305 Q1305,208 1305,208 V191 Q1305,191 1305,191 Z" fill="#0a0aff"/>
<text x="1315.0" y="203.6" font-size="11" fill="#fff" font-weight="bold" textLength="56.0" lengthAdjust="spacingAndGlyphs">0.00006547</text>
<path d="M1275,274 H1304 Q1304,274 1304,274 V291 Q1304,291 1304,291 H1275 Q1273,291 1273,289 V276 Q1273,274 1275,274 Z" fill="#0c2d96"/>
<text x="1277.5" y="286.6" font-size="11" fill="#fff" font-weight="bold" textLength="20.5" lengthAdjust="spacingAndGlyphs">EMA</text>
<path d="M1305,274 H1374 Q1376,274 1376,276 V289 Q1376,291 1374,291 H1305 Q1305,291 1305,291 V274 Q1305,274 1305,274 Z" fill="#0c2d96"/>
<text x="1315.0" y="286.6" font-size="11" fill="#fff" font-weight="bold" textLength="56.0" lengthAdjust="spacingAndGlyphs">0.00005222</text>
<path d="M1305,298 H1374 Q1376,298 1376,300 V326 Q1376,328 1374,328 H1305 Q1305,328 1305,328 V298 Q1305,298 1305,298 Z" fill="#6fa888"/>
<text x="1315.0" y="311.0" font-size="11" fill="#fff" font-weight="bold" textLength="56.0" lengthAdjust="spacingAndGlyphs">0.00004833</text>
<text x="1315.0" y="323.8" font-size="11" fill="#dcebe2" font-weight="bold" textLength="42.5" lengthAdjust="spacingAndGlyphs">07:28:26</text>
<path d="M1305,331 H1374 Q1376,331 1376,333 V346 Q1376,348 1374,348 H1305 Q1305,348 1305,348 V331 Q1305,331 1305,331 Z" fill="#0a0aff"/>
<text x="1315.0" y="343.7" font-size="11" fill="#fff" font-weight="bold" textLength="56.0" lengthAdjust="spacingAndGlyphs">0.00004312</text>
<path d="M1281,350 H1304 Q1304,350 1304,350 V367 Q1304,367 1304,367 H1281 Q1279,367 1279,365 V352 Q1279,350 1281,350 Z" fill="#f44336"/>
<text x="1283.5" y="362.6" font-size="11" fill="#fff" font-weight="bold" textLength="14.5" lengthAdjust="spacingAndGlyphs">MA</text>
<path d="M1305,350 H1374 Q1376,350 1376,352 V365 Q1376,367 1374,367 H1305 Q1305,367 1305,367 V350 Q1305,350 1305,350 Z" fill="#f44336"/>
<text x="1315.0" y="362.6" font-size="11" fill="#fff" font-weight="bold" textLength="56.0" lengthAdjust="spacingAndGlyphs">0.00003998</text>
<path d="M1281,730 H1304 Q1304,730 1304,730 V747 Q1304,747 1304,747 H1281 Q1279,747 1279,745 V732 Q1279,730 1281,730 Z" fill="#7e57c2"/>
<text x="1282.5" y="742.6" font-size="11" fill="#fff" font-weight="bold" textLength="15.0" lengthAdjust="spacingAndGlyphs">RSI</text>
<path d="M1305,730 H1346 Q1348,730 1348,732 V745 Q1348,747 1346,747 H1305 Q1305,747 1305,747 V730 Q1305,730 1305,730 Z" fill="#7e57c2"/>
<text x="1314.8" y="742.6" font-size="11" fill="#fff" font-weight="bold" textLength="27.3" lengthAdjust="spacingAndGlyphs">48.10</text>
<rect x="1327.5" y="33.5" width="31" height="17" rx="3" ry="3" fill="#fff" stroke="#d6d9e0" stroke-width="1"/>
<text x="1331.5" y="46.2" font-size="11" fill="#555" font-weight="normal" textLength="23.0" lengthAdjust="spacingAndGlyphs">USDT</text>
<text x="18.0" y="46.0" font-size="12" fill="#555" font-weight="normal" textLength="160.3" lengthAdjust="spacingAndGlyphs">SHIB / TetherUS, 1D, BINANCE</text>
<text x="186.7" y="46.0" font-size="12" fill="#555" font-weight="normal" textLength="7.3" lengthAdjust="spacingAndGlyphs">O</text>
<text x="195.2" y="46.0" font-size="12" fill="#2d6a4a" font-weight="normal" textLength="59.3" lengthAdjust="spacingAndGlyphs">0.00004831</text>
<text x="263.1" y="46.0" font-size="12" fill="#555" font-weight="normal" textLength="7.2" lengthAdjust="spacingAndGlyphs">H</text>
<text x="271.5" y="46.0" font-size="12" fill="#2d6a4a" font-weight="normal" textLength="59.7" lengthAdjust="spacingAndGlyphs">0.00004988</text>
<text x="339.8" y="46.0" font-size="12" fill="#555" font-weight="normal" textLength="5.4" lengthAdjust="spacingAndGlyphs">L</text>
<text x="346.3" y="46.0" font-size="12" fill="#2d6a4a" font-weight="normal" textLength="59.1" lengthAdjust="spacingAndGlyphs">0.00004663</text>
<text x="414.0" y="46.0" font-size="12" fill="#555" font-weight="normal" textLength="6.2" lengthAdjust="spacingAndGlyphs">C</text>
<text x="421.2" y="46.0" font-size="12" fill="#2d6a4a" font-weight="normal" textLength="59.7" lengthAdjust="spacingAndGlyphs">0.00004833</text>
<text x="489.5" y="46.0" font-size="12" fill="#2d6a4a" font-weight="normal" textLength="65.4" lengthAdjust="spacingAndGlyphs">+0.00000002</text>
<text x="560.5" y="46.0" font-size="12" fill="#2d6a4a" font-weight="normal" textLength="44.0" lengthAdjust="spacingAndGlyphs">(+0.04%)</text>
<text x="18.0" y="62.7" font-size="12" fill="#555" font-weight="normal" textLength="89.1" lengthAdjust="spacingAndGlyphs">MA (50, close, 0)</text>
<text x="115.7" y="62.7" font-size="12" fill="#f44336" font-weight="normal" textLength="60.4" lengthAdjust="spacingAndGlyphs">0.00003998</text>
<text x="18.0" y="79.5" font-size="12" fill="#555" font-weight="normal" textLength="96.3" lengthAdjust="spacingAndGlyphs">EMA (20, close, 0)</text>
<text x="121.9" y="79.5" font-size="12" fill="#1a3fa8" font-weight="normal" textLength="60.4" lengthAdjust="spacingAndGlyphs">0.00005222</text>
<text x="18.4" y="624.8" font-size="12" fill="#555" font-weight="normal" textLength="75.1" lengthAdjust="spacingAndGlyphs">RSI (14, close)</text>
<text x="101.9" y="624.8" font-size="12" fill="#7e57c2" font-weight="normal" textLength="29.4" lengthAdjust="spacingAndGlyphs">48.10</text>
</g>
<text x="10.3" y="18.8" font-size="12" fill="#2e2e2e" font-weight="normal" textLength="59.3" lengthAdjust="spacingAndGlyphs">ranadagger</text>
<text x="74.3" y="18.8" font-size="12" fill="#2e2e2e" font-weight="normal" textLength="49.9" lengthAdjust="spacingAndGlyphs">published</text>
<text x="128.9" y="18.8" font-size="12" fill="#2e2e2e" font-weight="normal" textLength="12.7" lengthAdjust="spacingAndGlyphs">on</text>
<text x="145.8" y="18.8" font-size="12" fill="#2e2e2e" font-weight="normal" textLength="93.5" lengthAdjust="spacingAndGlyphs">TradingView.com,</text>
<text x="244.0" y="18.8" font-size="12" fill="#2e2e2e" font-weight="normal" textLength="18.7" lengthAdjust="spacingAndGlyphs">Nov</text>
<text x="268.1" y="18.8" font-size="12" fill="#2e2e2e" font-weight="normal" textLength="15.5" lengthAdjust="spacingAndGlyphs">17,</text>
<text x="289.1" y="18.8" font-size="12" fill="#2e2e2e" font-weight="normal" textLength="23.0" lengthAdjust="spacingAndGlyphs">2021</text>
<text x="317.9" y="18.8" font-size="12" fill="#2e2e2e" font-weight="normal" textLength="27.4" lengthAdjust="spacingAndGlyphs">16:31</text>
<text x="350.8" y="18.8" font-size="12" fill="#2e2e2e" font-weight="normal" textLength="20.9" lengthAdjust="spacingAndGlyphs">UTC</text>
<g fill="#1e222d">
<path d="M10.1,837.3 H18.1 V846.6 H13.8 V840.7 H10.1 Z"/>
<circle cx="20.7" cy="838.8" r="1.75"/>
<path d="M23.7,837.3 H29.8 L25.9,846.6 H21.1 Z"/>
</g>
<text x="33.2" y="846.6" font-size="12.6" fill="#2a2e39" font-weight="normal" textLength="69.9" lengthAdjust="spacingAndGlyphs">TradingView</text>
</svg>
</body></html>
